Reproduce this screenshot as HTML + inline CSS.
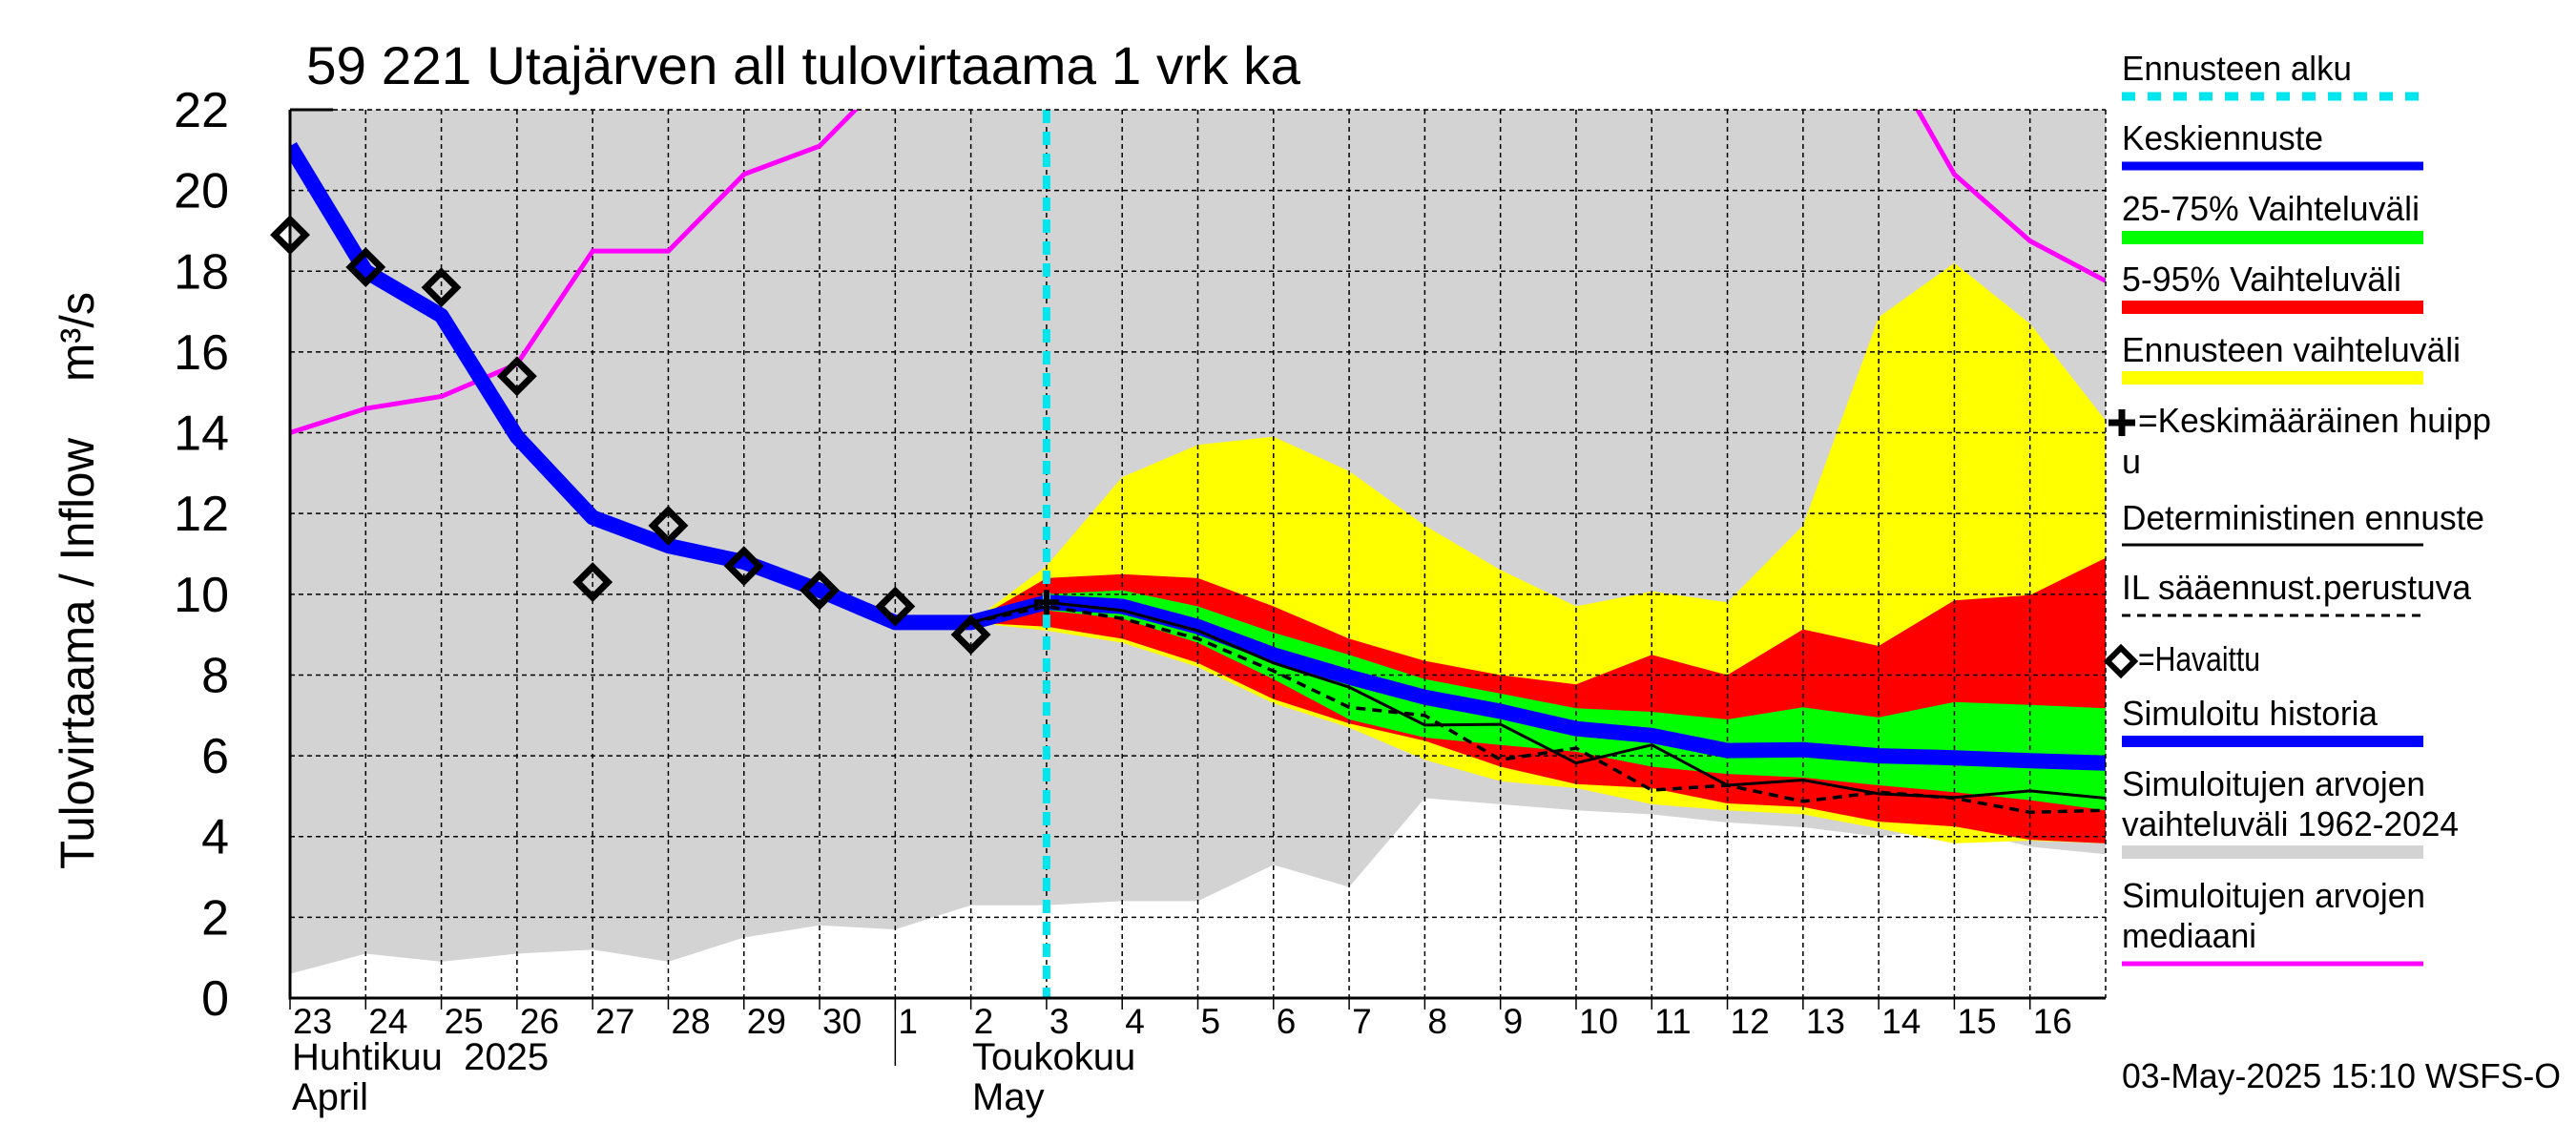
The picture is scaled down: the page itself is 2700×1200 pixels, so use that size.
<!DOCTYPE html>
<html><head><meta charset="utf-8"><style>
html,body{margin:0;padding:0;background:#fff}
svg{display:block}
text{font-family:"Liberation Sans",sans-serif;fill:#000;white-space:pre}
</style></head><body>
<svg id="chart" width="2700" height="1200" viewBox="0 0 2700 1200" xmlns="http://www.w3.org/2000/svg">
<text x="321" y="88" font-size="56" textLength="1042" lengthAdjust="spacingAndGlyphs">59 221 Utajärven all tulovirtaama 1 vrk ka</text>
<g id="plot"></g>
<text transform="translate(98,911) rotate(-90)" font-size="50" textLength="452" lengthAdjust="spacingAndGlyphs">Tulovirtaama / Inflow</text>
<text transform="translate(98,400) rotate(-90)" font-size="50" textLength="94" lengthAdjust="spacingAndGlyphs">m³/s</text>
<g id="legend"></g>
<text x="2224" y="1140" font-size="36" textLength="460" lengthAdjust="spacingAndGlyphs">03-May-2025 15:10 WSFS-O</text>
</svg>
<script>
// Day index 0 = 23 April ... index 24 = 17 May
const dayLabels = ["23","24","25","26","27","28","29","30","1","2","3","4","5","6","7","8","9","10","11","12","13","14","15","16"];
const yTicks = [0,2,4,6,8,10,12,14,16,18,20,22];
const grayLow = [0.6,1.1,0.9,1.1,1.2,0.9,1.5,1.8,1.7,2.3,2.3,2.4,2.4,3.3,2.75,4.95,4.8,4.65,4.55,4.35,4.23,4.0,4.2,3.75,3.56];
const median = [14.0,14.6,14.9,15.7,18.5,18.5,20.4,21.1,23.0,25,25,25,25,25,25,25,25,25,25,25,25,23.7,20.4,18.75,17.76];
const simHistory = [21.1,18.0,16.9,13.9,11.9,11.2,10.8,10.1,9.3,9.3,9.8,9.7,9.2,8.5,7.95,7.45,7.1,6.67,6.5,6.13,6.15,6.0,5.95,5.88,5.82];
const observed = [18.9,18.1,17.6,15.4,10.3,11.7,10.7,10.1,9.7,9.0];
// forecast arrays start at index 9 (2 May)
const fcStart = 9;
const yellowHi = [9.3,10.7,12.9,13.7,13.9,13.05,11.7,10.6,9.7,10.07,9.8,11.7,16.86,18.2,16.7,14.3];
const yellowLo = [9.3,9.1,8.8,8.2,7.3,6.7,5.9,5.37,5.2,4.8,4.65,4.55,4.2,3.83,3.9,3.83];
const redHi = [9.3,10.4,10.5,10.4,9.7,8.9,8.35,8.0,7.77,8.5,8.0,9.13,8.72,9.85,9.98,10.9];
const redLo = [9.3,9.2,8.9,8.3,7.4,6.8,6.37,5.73,5.3,5.2,4.82,4.73,4.37,4.25,3.92,3.83];
const greenHi = [9.3,10.0,10.1,9.7,9.05,8.5,7.9,7.54,7.18,7.09,6.9,7.2,6.95,7.33,7.26,7.18];
const greenLo = [9.3,9.6,9.4,8.8,7.9,6.9,6.45,6.27,6.1,5.73,5.55,5.46,5.27,5.1,4.9,4.65];
const determ = [9.3,9.8,9.6,9.1,8.3,7.7,6.76,6.78,5.82,6.27,5.27,5.4,5.06,4.97,5.13,4.95];
const ilDashed = [9.3,9.7,9.4,8.9,8.1,7.2,7.0,5.9,6.19,5.15,5.27,4.87,5.1,4.95,4.6,4.65];
const peakDay = 10, peakValue = 9.8;
const forecastStartDay = 10;

const NS="http://www.w3.org/2000/svg";
const X0=304, X1=2207, Y0=1046, YT=115, NDAYS=24, YMAX=22;
const xs = i => X0 + (X1-X0)*i/NDAYS;
const ys = v => Y0 - (Y0-YT)*v/YMAX;
const plot=document.getElementById('plot');
function mk(tag, attrs, parent){const e=document.createElementNS(NS,tag);for(const k in attrs)e.setAttribute(k,attrs[k]);(parent||plot).appendChild(e);return e;}
function pts(arr,off){return arr.map((v,i)=>xs(i+off).toFixed(1)+","+ys(v).toFixed(1));}
const defs=mk('defs',{});
const cp=mk('clipPath',{id:'clip'},defs);
mk('rect',{x:X0,y:YT,width:X1-X0,height:Y0-YT},cp);
const g=mk('g',{'clip-path':'url(#clip)'});
function gm(tag,attrs){return mk(tag,attrs,g);}
let bg=gm('rect',{x:X0,y:YT,width:X1-X0,height:Y0-YT,fill:'#d3d3d3'});


let wp=pts(grayLow,0).concat([xs(24)+","+Y0, xs(0)+","+Y0]);
let wb=gm('polygon',{points:wp.join(' '),fill:'#fff'});


function bandG(hi,lo,off,fill,name){
  const p=pts(hi,off).concat(pts(lo,off).reverse());
  const e=gm('polygon',{points:p.join(' '),fill:fill});
  
  
}
bandG(yellowHi,yellowLo,fcStart,'#ffff00','forecast-range-band');
bandG(redHi,redLo,fcStart,'#ff0000','band-5-95');
bandG(greenHi,greenLo,fcStart,'#00ff00','band-25-75');
for(let i=1;i<NDAYS;i++){
  const l=gm('line',{x1:xs(i),x2:xs(i),y1:YT,y2:Y0,stroke:'#000','stroke-width':1.5,'stroke-dasharray':'5,4'});
  
  
}
yTicks.forEach(v=>{ if(v>0){
  const l=gm('line',{x1:X0,x2:X1,y1:ys(v),y2:ys(v),stroke:'#000','stroke-width':1.5,'stroke-dasharray':'5,4'});
  
  
}});
let md=gm('polyline',{points:pts(median,0).join(' '),fill:'none',stroke:'#ff00ff','stroke-width':5});


let sh=gm('polyline',{points:pts(simHistory,0).join(' '),fill:'none',stroke:'#0000ff','stroke-width':16,'stroke-linejoin':'round'});


let dl=gm('polyline',{points:pts(determ,fcStart).join(' '),fill:'none',stroke:'#000','stroke-width':3});


let il=gm('polyline',{points:pts(ilDashed,fcStart).join(' '),fill:'none',stroke:'#000','stroke-width':3.5,'stroke-dasharray':'10,7'});


let fs=gm('line',{x1:xs(forecastStartDay),x2:xs(forecastStartDay),y1:YT,y2:Y0,stroke:'#00e5ee','stroke-width':8,'stroke-dasharray':'14,9'});


const px=xs(peakDay), py=ys(peakValue);
let pk=gm('path',{d:`M${px-13},${py}H${px+13}M${px},${py-13}V${py+13}`,stroke:'#000','stroke-width':6});


observed.forEach((v,i)=>{
  const cx=xs(i), cy=ys(v), r=16;
  const d=mk('polygon',{points:`${cx},${cy-r} ${cx+r},${cy} ${cx},${cy+r} ${cx-r},${cy}`,fill:'none',stroke:'#000','stroke-width':7});
  
  
});
let ax=mk('path',{d:`M${X0},${YT}V${Y0}H${X1}`,fill:'none',stroke:'#000','stroke-width':3});


mk('line',{x1:X0,x2:X0+45,y1:YT,y2:YT,stroke:'#000','stroke-width':3});
mk('line',{x1:X1,x2:X1,y1:YT,y2:Y0,stroke:'#000','stroke-width':1.5,'stroke-dasharray':'5,4'});
mk('line',{x1:X0,x2:X1,y1:YT,y2:YT,stroke:'#000','stroke-width':1.5,'stroke-dasharray':'5,4'});
yTicks.forEach(v=>{
  const t=mk('text',{x:240,y:ys(v)+18,'font-size':52,'text-anchor':'end'});
  t.textContent=v;
  
  
});
dayLabels.forEach((s,i)=>{
  mk('line',{x1:xs(i),x2:xs(i),y1:Y0,y2:Y0+12,stroke:'#000','stroke-width':1.5});
  const t=mk('text',{x:xs(i)+3,y:1083,'font-size':37});
  t.textContent=s;
  
  
});
mk('line',{x1:xs(8),x2:xs(8),y1:Y0,y2:1117,stroke:'#000','stroke-width':1.5});
[["Huhtikuu  2025",306,1121,'month-label-fi'],["April",306,1163,'month-label-en'],["Toukokuu",1019,1121,'month-label-fi'],["May",1019,1163,'month-label-en']].forEach(a=>{
  const t=mk('text',{x:a[1],y:a[2],'font-size':40});
  t.textContent=a[0];
  
  
});
const L=document.getElementById('legend');
const LX=2224, LX2=2540;
function ltext(s,y,w){const t=mk('text',{x:LX,y:y,'font-size':36},L);t.textContent=s;if(w){t.setAttribute('textLength',w);t.setAttribute('lengthAdjust','spacingAndGlyphs');}
  
  return t;}
function lline(y,col,w,dash){const l=mk('line',{x1:LX,x2:LX2,y1:y,y2:y,stroke:col,'stroke-width':w},L);if(dash)l.setAttribute('stroke-dasharray',dash);
  
  }
ltext("Ennusteen alku",84,241); lline(101,'#00e5ee',9,'14,13');
ltext("Keskiennuste",157,211); lline(174,'#0000ff',9);
ltext("25-75% Vaihteluväli",231,312); lline(249,'#00ff00',14);
ltext("5-95% Vaihteluväli",305,293); lline(322,'#ff0000',14);
ltext("Ennusteen vaihteluväli",379,355); lline(396,'#ffff00',14);
mk('path',{d:`M2210,443H2238M2224,429V457`,stroke:'#000','stroke-width':7},L);
ltext("=Keskimääräinen huipp",453,370).setAttribute('x',2241);
ltext("u",496);
ltext("Deterministinen ennuste",555,380); lline(571,'#000',3);
ltext("IL sääennust.perustuva",628,366); lline(645,'#000',3,'9,7');
mk('polygon',{points:`2223,679 2237,693 2223,707 2209,693`,fill:'none',stroke:'#000','stroke-width':6},L);
ltext("=Havaittu",703,128).setAttribute('x',2241);
ltext("Simuloitu historia",760,268); lline(777,'#0000ff',12);
ltext("Simuloitujen arvojen",834,318);
ltext("vaihteluväli 1962-2024",876,353); lline(893,'#d3d3d3',14);
ltext("Simuloitujen arvojen",951,318);
ltext("mediaani",993,141); lline(1010,'#ff00ff',5);
</script>
</body></html>
